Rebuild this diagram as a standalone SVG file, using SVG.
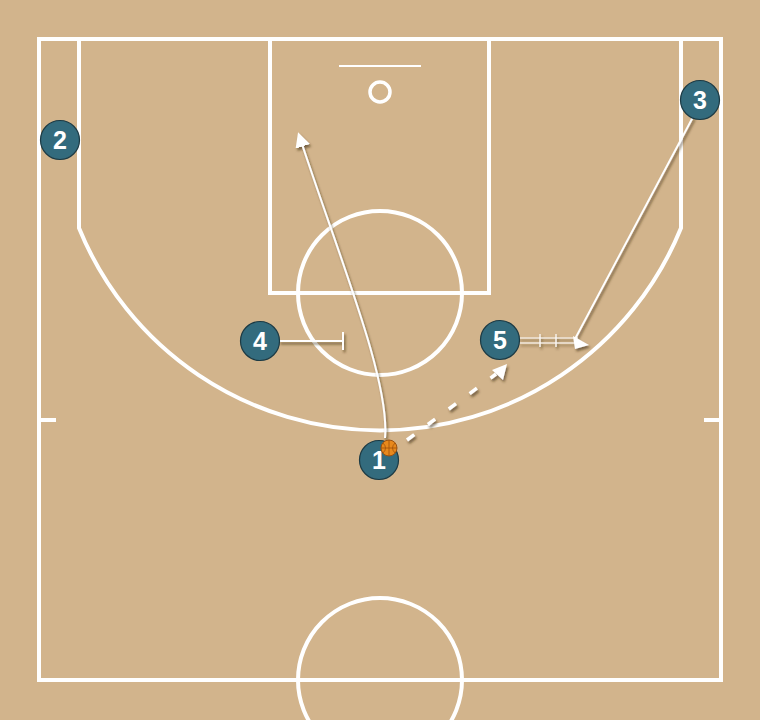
<svg xmlns="http://www.w3.org/2000/svg" width="760" height="720" viewBox="0 0 760 720">
<defs>
<style>
.court{fill:none;stroke:#fff;stroke-width:4}
.mv{fill:none;stroke:#fff;stroke-width:2}
.thin{fill:none;stroke:#fff;stroke-width:1.2}
.pass{fill:none;stroke:#fff;stroke-width:3.5;stroke-dasharray:9 17}
.pl circle{fill:#336b7d;stroke:#1c3a44;stroke-width:1.2}
.pl text{fill:#fff;font-family:"Liberation Sans",Arial,sans-serif;font-weight:bold;font-size:25px;text-anchor:middle}
</style>
<filter id="sh" x="-20%" y="-20%" width="140%" height="140%">
<feDropShadow dx="1.5" dy="2.5" stdDeviation="0.8" flood-color="#3a2a10" flood-opacity="0.6"/>
</filter>
<marker id="ah" viewBox="0 0 10 10" refX="8" refY="5" markerWidth="15" markerHeight="15" markerUnits="userSpaceOnUse" orient="auto">
<path d="M0,0 L10,5 L0,10 z" fill="#fff"/>
</marker>
</defs>
<rect x="0" y="0" width="760" height="720" fill="#d2b48c"/>
<g id="court">
<rect class="court" x="39" y="39" width="682" height="641"/>
<rect class="court" x="270" y="39" width="219" height="254"/>
<circle class="court" cx="380" cy="293" r="82"/>
<path class="court" d="M79,39 V228 A325,325 0 0 0 681,228 V39"/>
<line class="court" x1="39" y1="420" x2="56" y2="420"/>
<line class="court" x1="704" y1="420" x2="721" y2="420"/>
<circle class="court" cx="380" cy="680" r="82"/>
<line x1="339" y1="66" x2="421" y2="66" stroke="#fff" stroke-width="2"/>
<circle cx="380" cy="92" r="10" fill="none" stroke="#fff" stroke-width="3.5"/>
</g>
<g id="connectors" filter="url(#sh)">
<path class="mv" d="M385,438 C390,380 340,260 299,135" marker-end="url(#ah)"/>
<path class="mv" d="M693,117 L575,339"/>
<path class="pass" d="M407,440 L496,374"/>
<path d="M492,370 L507,364 L503,380 z" fill="#fff"/>
<g id="screen4">
<line class="mv" x1="279" y1="341" x2="343" y2="341" stroke-width="2.5"/>
<line class="mv" x1="343" y1="332" x2="343" y2="350"/>
</g>
<g id="handoff5">
<line class="thin" x1="519" y1="338" x2="578" y2="338"/>
<line class="thin" x1="519" y1="343" x2="578" y2="343"/>
<line class="thin" x1="540" y1="334" x2="540" y2="347"/>
<line class="thin" x1="556" y1="334" x2="556" y2="347"/>
<path d="M573,336 L589,345 L575,349 z" fill="#fff"/>
</g>
</g>
<g id="p1" class="pl"><circle cx="379" cy="460" r="19.5"/><text x="379" y="469">1</text></g>
<g id="ball"><circle cx="389" cy="448" r="8" fill="#e8891c" stroke="#9a5210" stroke-width="1"/>
<path d="M381,448 H397 M389,440 V456 M383,443 Q388,448 383,453 M395,443 Q390,448 395,453" fill="none" stroke="#a0500a" stroke-width="0.8"/></g>
<g id="p2" class="pl"><circle cx="60" cy="140" r="19.5"/><text x="60" y="149">2</text></g>
<g id="p3" class="pl"><circle cx="700" cy="100" r="19.5"/><text x="700" y="109">3</text></g>
<g id="p4" class="pl"><circle cx="260" cy="341" r="19.5"/><text x="260" y="350">4</text></g>
<g id="p5" class="pl"><circle cx="500" cy="340" r="19.5"/><text x="500" y="349">5</text></g>
</svg>
